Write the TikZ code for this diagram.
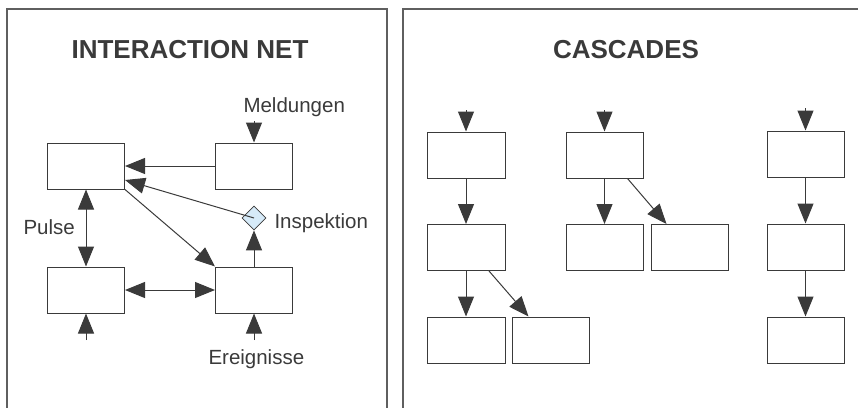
\documentclass[tikz,border=0pt]{standalone}
\usepackage{fontspec}
\setmainfont{Liberation Sans}
\usetikzlibrary{arrows.meta,shapes.geometric}
\definecolor{cink}{RGB}{58,58,58}
\definecolor{cframe}{RGB}{95,95,95}
\definecolor{cdiam}{RGB}{214,234,248}
\tikzset{panels/.style={x=1pt,y=-1pt,line width=1pt,cink}}
\tikzset{unit/.style={draw=cink,fill=white,minimum width=77pt,minimum height=46pt,inner sep=0pt},
         flow/.style={arrows={-Triangle[length=20pt,width=16pt]}},
         bothflow/.style={arrows={Triangle[length=20pt,width=16pt]-Triangle[length=20pt,width=16pt]}},
         frame/.style={cframe,line width=1.2pt},
         heading/.style={font=\bfseries\fontsize{26}{30}\selectfont},
         tag/.style={font=\fontsize{20.5}{24}\selectfont,anchor=base west,inner sep=0pt}}

\begin{document}
\begin{tikzpicture}[panels]
    \useasboundingbox (0,0) rectangle (858,407);
    \clip (0,0) rectangle (858,407);
    \draw[frame] (7,420) -- (7,9) -- (387,9) -- (387,420);
    \draw[frame] (403,420) -- (403,9) -- (870,9);
    % interaction net
    \node[heading] (nettitle) at (190,50) {INTERACTION NET};
    \node[unit] (a) at (86,166) {};
    \node[unit] (b) at (254,166) {};
    \node[unit] (c) at (86,290) {};
    \node[unit] (d) at (254,290) {};
    \node[diamond,draw=cink,fill=cdiam,minimum size=24pt,inner sep=0pt,line width=0.8pt] (insp) at (254,218) {};
    \node[tag] (meld) at (243,112) {Meldungen};
    \node[tag] (pulse) at (23,234) {Pulse};
    \node[tag] (insptext) at (274,228) {Inspektion};
    \node[tag] (ereig) at (208,364) {Ereignisse};
    \coordinate (meldin) at (254,121);
    \coordinate (cin) at (86,340);
    \coordinate (din) at (254,340);
    \draw[flow] (meldin) -- (b.north);
    \draw[flow] (b.west) -- (a.east);
    \draw[flow] (insp.center) -- ([yshift=-14pt]a.east);
    \draw[flow] (a.south east) -- (d.north west);
    \draw[bothflow] (a.south) -- (c.north);
    \draw[bothflow] (c.east) -- (d.west);
    \draw[flow] (d.north) -- (insp.south);
    \draw[flow] (cin) -- (c.south);
    \draw[flow] (din) -- (d.south);
    % cascades
    \node[heading] (castitle) at (626,50) {CASCADES};
    \node[unit,minimum width=78pt] (p1) at (466,155) {};
    \node[unit,minimum width=78pt] (p2) at (466,247.5) {};
    \node[unit,minimum width=78pt] (p3) at (466,340) {};
    \node[unit] (p4) at (550.5,340) {};
    \node[unit] (q1) at (604.5,155) {};
    \node[unit] (q2) at (604.5,247.5) {};
    \node[unit] (q3) at (689.5,247.5) {};
    \node[unit] (r1) at (805.5,154) {};
    \node[unit] (r2) at (805.5,247) {};
    \node[unit] (r3) at (805.5,340) {};
    \coordinate (pin) at (466,110);
    \coordinate (qin) at (604.5,110);
    \coordinate (rin) at (805.5,108);
    \foreach \s/\t in {pin/p1,p1/p2,p2/p3,qin/q1,q1/q2,rin/r1,r1/r2,r2/r3}
        \draw[flow] (\s) -- (\t.north);
    \draw[flow] ([xshift=23pt]p2.south) -- ([xshift=-22pt]p4.north);
    \draw[flow] ([xshift=23pt]q1.south) -- ([xshift=-23pt]q3.north);
\end{tikzpicture}
\end{document}
